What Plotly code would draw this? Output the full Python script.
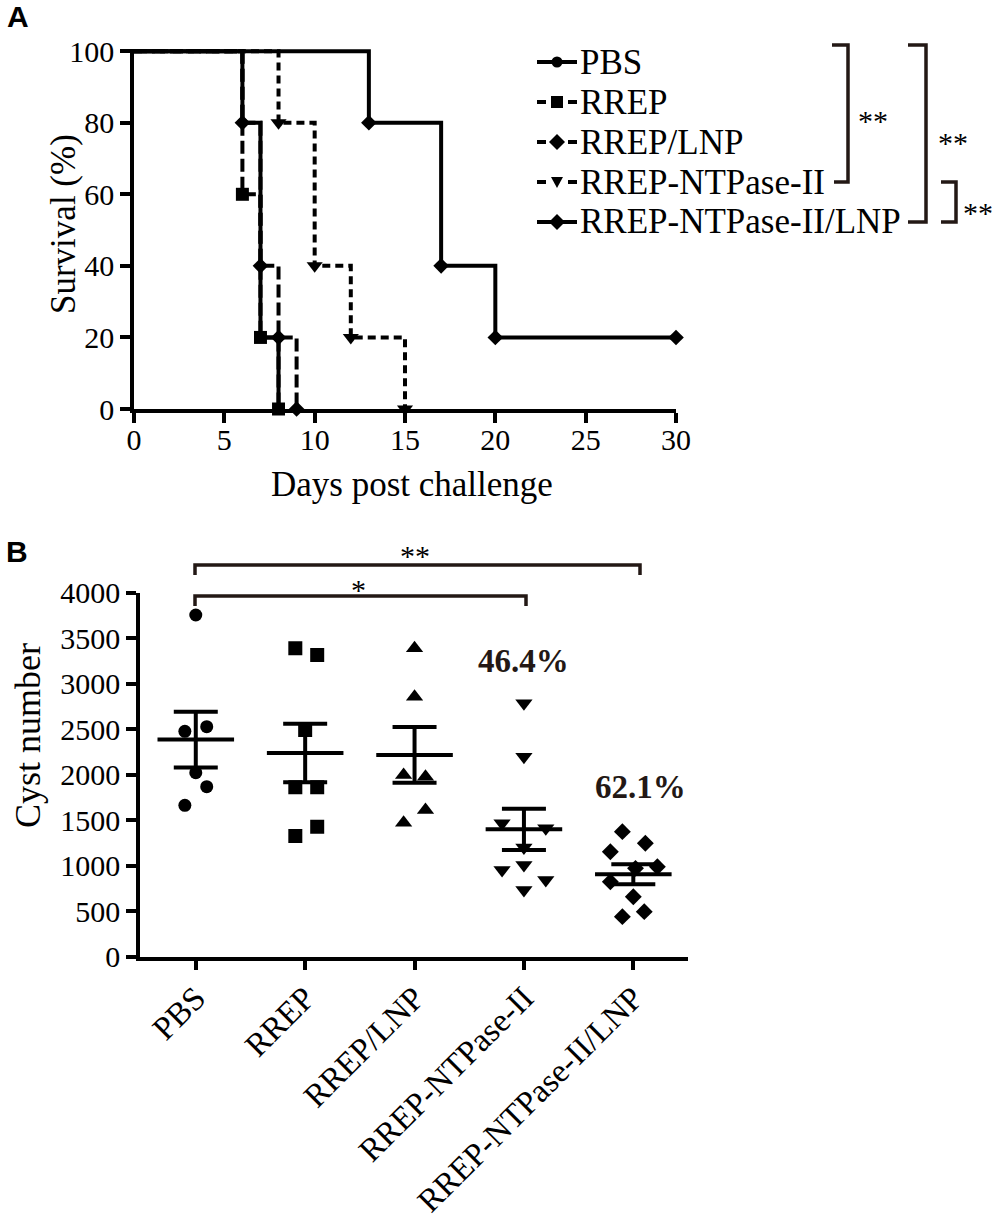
import numpy as np
import plotly.graph_objects as go

W, H = 1000, 1225

# ---------------- Panel A data (Kaplan-Meier survival, %) ----------------
groups = ["PBS", "RREP", "RREP/LNP", "RREP-NTPase-II", "RREP-NTPase-II/LNP"]

days_pbs = [0, 6, 7, 8]
surv_pbs = [100, 80, 20, 0]
days_rrep = [0, 6, 7, 8]
surv_rrep = [100, 60, 20, 0]
days_rrep_lnp = [0, 6, 7, 8, 9]
surv_rrep_lnp = [100, 80, 40, 20, 0]
days_ntp = [0, 8, 10, 12, 15]
surv_ntp = [100, 80, 40, 20, 0]
days_ntp_lnp = [0, 13, 17, 20, 30]
surv_ntp_lnp = [100, 80, 40, 20, 20]

x_ticks_a = [0, 5, 10, 15, 20, 25, 30]
y_ticks_a = [0, 20, 40, 60, 80, 100]

# ---------------- Panel B data (cyst numbers) ----------------
cyst_pbs = [3755, 2477, 2528, 2022, 1868, 1664]
cyst_rrep = [3389, 3315, 2491, 1861, 1861, 1326, 1429]
cyst_rrep_lnp = [3389, 2857, 1997, 1978, 1612, 1473]
cyst_ntp = [2785, 2198, 1466, 1411, 1200, 953, 1008, 843, 733]
cyst_ntp_lnp = [1374, 1246, 1154, 989, 971, 824, 659, 440, 495]
reduction_labels = ["46.4%", "62.1%"]
y_ticks_b = [0, 500, 1000, 1500, 2000, 2500, 3000, 3500, 4000]

# horizontal scatter offsets (layout only)
off_pbs = [0, -0.1, 0.1, 0, 0.1, -0.1]
off_rrep = [-0.09, 0.11, 0, -0.09, 0.11, -0.09, 0.11]
off_rrep_lnp = [0, 0, -0.1, 0.1, 0.1, -0.1]
off_ntp = [0, 0, -0.2, 0.2, 0, -0.2, 0, 0.2, 0]
off_ntp_lnp = [-0.1, 0.11, -0.21, 0.22, 0.02, -0.21, 0, -0.1, 0.1]

SERIF = "Liberation Serif"
SANS = "Liberation Sans"
BLACK = "black"
DARK = "#231815"


def px(x):
    return x / W


def py(y):
    return 1 - y / H


fig = go.Figure()

# ---- Panel A
surv_sets = [(days_pbs, surv_pbs), (days_rrep, surv_rrep), (days_rrep_lnp, surv_rrep_lnp),
             (days_ntp, surv_ntp), (days_ntp_lnp, surv_ntp_lnp)]
symbols_a = ["circle", "square", "diamond", "triangle-down", "diamond"]
sizes_a = [10, 13, 12, 14, 12]
dashes_a = ["solid", "13px,5px", "13px,5px", "8px,5px", "solid"]

for i, (d, s) in enumerate(surv_sets):
    fig.add_trace(go.Scatter(
        x=d, y=s, mode="lines", line=dict(color=BLACK, width=4, dash=dashes_a[i], shape="hv"),
        xaxis="x", yaxis="y", showlegend=False, hoverinfo="skip"))
for i, (d, s) in enumerate(surv_sets):
    fig.add_trace(go.Scatter(
        x=d[1:], y=s[1:], mode="markers",
        marker=dict(symbol=symbols_a[i], size=sizes_a[i], color=BLACK),
        xaxis="x", yaxis="y", showlegend=False, cliponaxis=False))

# ---- Panel B
cyst_sets = [cyst_pbs, cyst_rrep, cyst_rrep_lnp, cyst_ntp, cyst_ntp_lnp]
offsets = [off_pbs, off_rrep, off_rrep_lnp, off_ntp, off_ntp_lnp]
symbols_b = ["circle", "square", "triangle-up", "triangle-down", "diamond"]
sizes_b = [13, 14, 15, 15, 13]
for i, vals in enumerate(cyst_sets):
    pos = i + 1
    xs = [pos + o for o in offsets[i]]
    fig.add_trace(go.Scatter(
        x=xs, y=vals, mode="markers",
        marker=dict(symbol=symbols_b[i], size=sizes_b[i], color=BLACK),
        xaxis="x2", yaxis="y2", showlegend=False))
    arr = np.array(vals, dtype=float)
    mean = arr.mean()
    sem = arr.std(ddof=1) / np.sqrt(len(arr))
    fig.add_trace(go.Scatter(
        x=[pos - 0.35, pos + 0.35], y=[mean, mean], mode="lines",
        line=dict(color=BLACK, width=4), xaxis="x2", yaxis="y2", showlegend=False))
    fig.add_trace(go.Scatter(
        x=[pos], y=[mean], mode="markers", marker=dict(size=0.1, color="rgba(0,0,0,0)"),
        error_y=dict(type="data", array=[sem], visible=True, color=BLACK, thickness=4, width=22),
        xaxis="x2", yaxis="y2", showlegend=False))

axis_common = dict(showgrid=False, zeroline=False, showline=True, linecolor=BLACK, linewidth=3.5,
                   ticks="outside", ticklen=10, tickwidth=3.5, tickcolor=BLACK, automargin=False)
tick30 = dict(family=SERIF, size=30, color=BLACK)

fig.update_layout(
    width=W, height=H, margin=dict(l=0, r=0, t=0, b=0, pad=0, autoexpand=False),
    paper_bgcolor="white", plot_bgcolor="white", showlegend=False,
    xaxis=dict(domain=[px(134), px(676)], range=[0, 30], tickvals=x_ticks_a, anchor="y",
               tickfont=tick30, ticklabelstandoff=-9, **axis_common),
    yaxis=dict(domain=[py(409), py(49)], range=[0, 100.6], tickvals=y_ticks_a, anchor="x",
               tickfont=tick30, **axis_common),
    xaxis2=dict(domain=[px(140), px(688)], range=[0.49, 5.5], tickvals=[1, 2, 3, 4, 5], ticktext=groups,
                tickangle=-45, anchor="y2", tickfont=dict(family=SERIF, size=33, color=BLACK),
                ticklabelstandoff=-5, **axis_common),
    yaxis2=dict(domain=[py(956.7), py(592.7)], range=[0, 4000], tickvals=y_ticks_b, anchor="x2",
                tickfont=tick30, **axis_common),
)

ann = []
ann.append(dict(text="Survival (%)", x=px(64), y=py(224), textangle=-90,
                font=dict(family=SERIF, size=35, color=BLACK)))
ann.append(dict(text="Days post challenge", x=px(412), y=py(485),
                font=dict(family=SERIF, size=35, color=BLACK)))
ann.append(dict(text="Cyst number", x=px(28), y=py(736), textangle=-90,
                font=dict(family=SERIF, size=36, color=BLACK)))
ann.append(dict(text="<b>A</b>", x=px(18), y=py(17), font=dict(family=SANS, size=30, color=BLACK)))
ann.append(dict(text="<b>B</b>", x=px(17), y=py(551), font=dict(family=SANS, size=30, color=BLACK)))
# significance stars
for t, x, y in [("**", 872.5, 121), ("**", 953, 142.5), ("**", 978, 212.5),
                ("**", 415, 555), ("*", 358.5, 589)]:
    ann.append(dict(text=t, x=px(x), y=py(y), font=dict(family=SERIF, size=30, color=BLACK)))
for a in ann:
    a.update(xref="paper", yref="paper", showarrow=False, xanchor="center", yanchor="middle")

# manual legend (text)
legend_rows = [62, 102, 142, 182, 222]
for g, ry in zip(groups, legend_rows):
    ann.append(dict(text=g, x=px(578), y=py(ry), xref="paper", yref="paper", showarrow=False,
                    xanchor="left", yanchor="middle", font=dict(family=SERIF, size=35, color=BLACK)))

# percent reduction labels (data coords)
ann.append(dict(text="<b>%s</b>" % reduction_labels[0], x=4.0, y=3245, xref="x2", yref="y2",
                showarrow=False, font=dict(family=SERIF, size=33, color=DARK)))
ann.append(dict(text="<b>%s</b>" % reduction_labels[1], x=5.07, y=1870, xref="x2", yref="y2",
                showarrow=False, font=dict(family=SERIF, size=33, color=DARK)))
fig.update_layout(annotations=ann)


def path(points, close=False):
    s = ""
    for k, (x, y) in enumerate(points):
        s += ("M" if k == 0 else "L") + " %.5f %.5f " % (px(x), py(y))
    if close:
        s += "Z"
    return s


shapes = []
brackets = [
    [(832, 45), (848, 45), (848, 182), (834, 182)],
    [(908, 45), (926, 45), (926, 222), (908, 222)],
    [(941, 182), (956, 182), (956, 222), (941, 222)],
    [(195, 575), (195, 565), (640, 565), (640, 575)],
    [(195, 606), (195, 596), (526, 596), (526, 606)],
]
for b in brackets:
    shapes.append(dict(type="path", path=path(b), xref="paper", yref="paper",
                       line=dict(color=DARK, width=3.5)))

# manual legend keys
kx0, kx1, kc = 537, 577, 557
for i, ry in enumerate(legend_rows):
    if dashes_a[i] == "solid":
        segs = [(kx0, kx1)]
    else:
        segs = [(kx0, 546), (568, kx1)]
    for a0, a1 in segs:
        shapes.append(dict(type="line", x0=px(a0), x1=px(a1), y0=py(ry), y1=py(ry), xref="paper",
                           yref="paper", line=dict(color=BLACK, width=4)))
    sym = symbols_a[i]
    if sym == "circle":
        r = 5.5
        shapes.append(dict(type="circle", x0=px(kc - r), x1=px(kc + r), y0=py(ry + r), y1=py(ry - r),
                           xref="paper", yref="paper", fillcolor=BLACK, line=dict(width=0)))
    elif sym == "square":
        r = 6
        shapes.append(dict(type="rect", x0=px(kc - r), x1=px(kc + r), y0=py(ry + r), y1=py(ry - r),
                           xref="paper", yref="paper", fillcolor=BLACK, line=dict(width=0)))
    elif sym == "diamond":
        r = 8
        shapes.append(dict(type="path", path=path([(kc - r, ry), (kc, ry - r), (kc + r, ry), (kc, ry + r)], True),
                           xref="paper", yref="paper", fillcolor=BLACK, line=dict(width=0)))
    else:
        shapes.append(dict(type="path", path=path([(kc - 6, ry - 5), (kc + 6, ry - 5), (kc, ry + 6)], True),
                           xref="paper", yref="paper", fillcolor=BLACK, line=dict(width=0)))
fig.update_layout(shapes=shapes)

fig.write_html("out.html", config={"displayModeBar": False},
               post_script="document.body.style.margin='0px';document.body.style.overflow='hidden';")
